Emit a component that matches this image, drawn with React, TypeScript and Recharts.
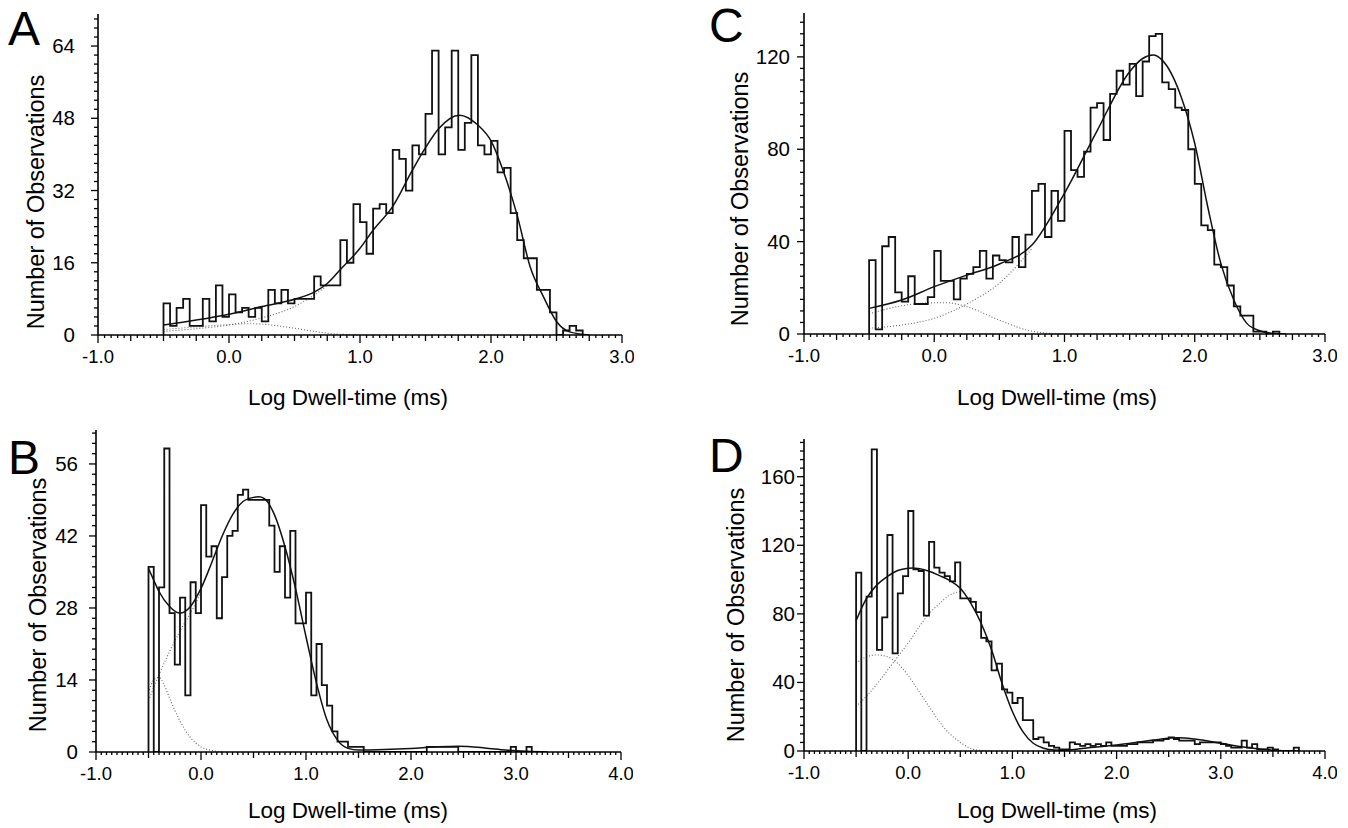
import React from "react";
import { ComposedChart, Line, XAxis, YAxis } from "recharts";

// histogram bins start at log t = -0.5, width 0.05
const BIN_START = -0.5;
const BIN_WIDTH = 0.05;

const countsA = [7, 2, 6, 8, 2, 2, 8, 3, 11, 4, 9, 5, 6, 4, 6, 3, 10, 7, 10, 7, 8, 8, 8, 13, 11, 11, 11, 21, 16, 29, 25, 18, 28, 29, 27, 41, 39, 32, 42, 40, 49, 63, 40, 46, 63, 41, 47, 62, 42, 40, 43, 36, 37, 27, 21, 17, 17, 10, 10, 5, 0, 1, 2, 1];
const fitAx = [-0.5, -0.25, 0, 0.25, 0.5, 0.65, 0.75, 0.85, 1.0, 1.1, 1.25, 1.4, 1.5, 1.6, 1.76, 1.9, 2.0, 2.1, 2.2, 2.3, 2.4, 2.5, 2.6, 2.75];
const fitAy = [2.2, 3.3, 4.6, 6.3, 7.9, 9.5, 11.4, 14.5, 19.2, 23.2, 28.5, 36.5, 41.5, 45.7, 48.7, 46.5, 43, 35.8, 26.5, 15, 8.5, 3, 0.7, 0];
const compA1x = [-0.5, -0.25, 0, 0.15, 0.25, 0.5, 0.75, 1.0];
const compA1y = [1.2, 1.8, 2.3, 2.5, 2.4, 1.5, 0.4, 0];
const compA2x = [-0.5, -0.25, 0, 0.25, 0.5, 0.75];
const compA2y = [0.8, 1.4, 2.2, 3.8, 6.3, 10.9];

const countsB = [36, 0, 32, 59, 27, 17, 30, 11, 33, 27, 48, 38, 40, 26, 34, 42, 43, 50, 51, 49, 49, 49, 49, 44, 35, 40, 30, 43, 25, 25, 31, 11, 21, 13, 9, 4, 2, 2, 1, 1, 1, 0, 0, 0, 0, 0, 0, 0, 0, 0, 0, 0, 0, 1, 1, 1, 1, 1, 1, 0, 0, 0, 0, 0, 0, 0, 0, 0, 0, 1, 0, 0, 1];
const fitBx = [-0.5, -0.45, -0.4, -0.3, -0.2, -0.1, 0, 0.1, 0.2, 0.3, 0.4, 0.5, 0.55, 0.6, 0.7, 0.8, 0.9, 1.0, 1.1, 1.2, 1.3, 1.4, 1.5, 1.75, 2.0, 2.25, 2.45, 2.7, 2.9, 3.1, 3.3];
const fitBy = [35.7, 33.4, 31.2, 28.3, 27, 28.3, 31.8, 36.7, 41.9, 46.1, 48.7, 49.5, 49.6, 49.3, 46.1, 39.9, 31.8, 22.4, 13.4, 6.2, 2.3, 0.7, 0.4, 0.5, 0.7, 1.0, 1.1, 0.8, 0.4, 0.15, 0];
const compB1x = [-0.5, -0.45, -0.4, -0.35, -0.3, -0.2, -0.1, 0, 0.1, 0.2];
const compB1y = [11.5, 14, 14.5, 13, 10.5, 6, 2.8, 1, 0.3, 0];
const compB2x = [-0.5, -0.4, -0.3, -0.2, -0.1, 0];
const compB2y = [10, 15, 19.5, 23.5, 27, 31];

const countsC = [32, 2, 38, 42, 18, 14, 25, 13, 13, 16, 36, 23, 23, 15, 24, 26, 29, 36, 24, 34, 32, 31, 42, 29, 43, 62, 65, 42, 62, 49, 88, 71, 68, 79, 98, 100, 84, 104, 114, 108, 117, 103, 118, 129, 130, 109, 106, 98, 97, 80, 65, 47, 45, 30, 29, 21, 12, 8, 8, 1, 1, 0, 1];
const fitCx = [-0.5, -0.25, 0, 0.25, 0.5, 0.75, 1.0, 1.25, 1.5, 1.6, 1.68, 1.75, 1.9, 2.0, 2.1, 2.2, 2.3, 2.4, 2.5, 2.6, 2.7];
const fitCy = [11.1, 14.7, 20.5, 25.5, 30.3, 38.5, 61, 88, 113.6, 119.3, 120.8, 118.6, 102, 82.5, 55, 30.6, 14.7, 4.6, 1.4, 0.3, 0];
const compC1x = [-0.5, -0.25, 0, 0.1, 0.25, 0.5, 0.75, 1.0];
const compC1y = [8.7, 12.2, 13.5, 13.5, 11.8, 6, 1.2, 0];
const compC2x = [-0.5, -0.25, 0, 0.25, 0.5, 0.75];
const compC2y = [2.5, 3.9, 6.8, 13, 22, 37];

const countsD = [104, 0, 90, 176, 59, 78, 126, 57, 92, 102, 140, 106, 105, 79, 122, 107, 104, 102, 99, 110, 89, 89, 87, 81, 66, 64, 47, 51, 36, 34, 28, 31, 18, 18, 7, 8, 5, 3, 2, 1, 1, 5, 4, 3, 4, 3, 4, 3, 5, 3, 3, 3, 4, 4, 5, 5, 5, 6, 6, 7, 8, 7, 6, 6, 6, 4, 5, 5, 5, 5, 4, 3, 2, 2, 6, 2, 4, 1, 1, 2, 1, 0, 0, 0, 2];
const fitDx = [-0.5, -0.4, -0.3, -0.2, -0.1, 0, 0.05, 0.1, 0.2, 0.3, 0.4, 0.5, 0.6, 0.7, 0.8, 0.9, 1.0, 1.1, 1.2, 1.3, 1.4, 1.5, 1.75, 2.0, 2.25, 2.5, 2.6, 2.75, 3.0, 3.25, 3.5, 3.75];
const fitDy = [76, 89, 96.9, 101.8, 105.3, 106.6, 106.8, 106.4, 104.9, 102.3, 99.4, 94.9, 86.2, 74.5, 59, 39.5, 23, 11.3, 4.5, 1.6, 0.6, 0.5, 2, 3.5, 5.5, 7.5, 7.8, 7, 4.5, 2, 0.5, 0];
const compD1x = [-0.5, -0.4, -0.3, -0.2, -0.1, 0, 0.1, 0.2, 0.3, 0.4, 0.5, 0.6, 0.7, 0.8];
const compD1y = [51, 55, 56, 55, 51, 44, 35, 26, 17, 10, 5, 1.5, 0.3, 0];
const compD2x = [-0.5, -0.4, -0.3, -0.2, -0.1, 0, 0.1, 0.2, 0.3, 0.4, 0.5, 0.55];
const compD2y = [26, 32, 39, 47, 55, 63, 72, 80, 86, 91, 93, 93.5];

const X_TITLE = "Log Dwell-time (ms)";
const Y_TITLE = "Number of Observations";

type Pt = { x: number; y: number };

function histPoints(counts: number[]): Pt[] {
  const pts: Pt[] = [{ x: BIN_START, y: 0 }];
  counts.forEach((c, i) => pts.push({ x: Math.round((BIN_START + i * BIN_WIDTH) * 1000) / 1000, y: c }));
  pts.push({ x: Math.round((BIN_START + counts.length * BIN_WIDTH) * 1000) / 1000, y: 0 });
  return pts;
}

function curve(xs: number[], ys: number[]): Pt[] {
  return xs.map((x, i) => ({ x, y: ys[i] }));
}

function xTickValues(max: number) {
  const t: number[] = [];
  const n = Math.round((max + 1) / 0.05);
  for (let i = 0; i <= n; i++) t.push(Math.round((-1 + i * 0.05) * 100) / 100);
  return t;
}

function yTickValues(max: number, step: number) {
  const t: number[] = [];
  for (let v = 0; v <= max + 1e-9; v += step) t.push(v);
  return t;
}

const near = (v: number, step: number) => Math.abs(v / step - Math.round(v / step)) < 1e-6;

const XTick = (props: any) => {
  const { x, y, payload, medium } = props;
  const v = payload.value;
  const major = near(v, 1);
  const len = major ? 8 : near(v, medium) ? 6 : 3;
  return (
    <g>
      <line x1={x} y1={y} x2={x} y2={y + len} stroke="#000" strokeWidth={1.3} />
      {major && (
        <text x={x} y={y + 28} textAnchor="middle" fontSize={18.5} fontFamily="'Liberation Sans', Arial, sans-serif" fill="#000">
          {v.toFixed(1)}
        </text>
      )}
    </g>
  );
};

const YTick = (props: any) => {
  const { x, y, payload, major, gap } = props;
  const v = payload.value;
  const isMajor = near(v, major);
  const len = isMajor ? 7 : 4;
  return (
    <g>
      <line x1={x} y1={y} x2={x - len} y2={y} stroke="#000" strokeWidth={1.3} />
      {isMajor && (
        <text x={x - gap} y={y + 7} textAnchor="end" fontSize={20.5} fontFamily="'Liberation Sans Narrow', 'Liberation Sans', Arial, sans-serif" fill="#000">
          {v}
        </text>
      )}
    </g>
  );
};

const panels = [
  { id: "A", plotLeft: 98, plotTop: 14, plotW: 524, plotH: 321, xMax: 3, xMed: 0.25, yMax: 71.1, yMinor: 2, yMajor: 16, gap: 23,
    counts: countsA, fit: curve(fitAx, fitAy), comps: [curve(compA1x, compA1y), curve(compA2x, compA2y)] },
  { id: "C", plotLeft: 804, plotTop: 13, plotW: 521, plotH: 321, xMax: 3, xMed: 0.25, yMax: 139, yMinor: 5, yMajor: 40, gap: 14,
    counts: countsC, fit: curve(fitCx, fitCy), comps: [curve(compC1x, compC1y), curve(compC2x, compC2y)] },
  { id: "B", plotLeft: 96, plotTop: 430, plotW: 525, plotH: 322, xMax: 4, xMed: 0.5, yMax: 62.6, yMinor: 2, yMajor: 14, gap: 18,
    counts: countsB, fit: curve(fitBx, fitBy), comps: [curve(compB1x, compB1y), curve(compB2x, compB2y)] },
  { id: "D", plotLeft: 804, plotTop: 439, plotW: 521, plotH: 312, xMax: 4, xMed: 0.5, yMax: 182, yMinor: 5, yMajor: 40, gap: 9,
    counts: countsD, fit: curve(fitDx, fitDy), comps: [curve(compD1x, compD1y), curve(compD2x, compD2y)] },
];

const M_LEFT = 20;
const Y_W = 40;
const M_TOP = 10;
const M_RIGHT = 12;
const X_H = 40;

function Panel({ p }: { p: (typeof panels)[number] }) {
  const width = M_LEFT + Y_W + p.plotW + M_RIGHT;
  const height = M_TOP + p.plotH + X_H;
  return (
    <div style={{ position: "absolute", left: p.plotLeft - M_LEFT - Y_W, top: p.plotTop - M_TOP, width, height }}>
      <ComposedChart width={width} height={height} margin={{ top: M_TOP, right: M_RIGHT, left: M_LEFT, bottom: 0 }}>
        <XAxis
          type="number"
          dataKey="x"
          domain={[-1, p.xMax]}
          allowDataOverflow
          ticks={xTickValues(p.xMax)}
          interval={0}
          tickSize={0}
          tickMargin={0}
          tickLine={false}
          height={X_H}
          axisLine={{ stroke: "#000", strokeWidth: 1.6 }}
          tick={(props: any) => <XTick {...props} medium={p.xMed} />}
        />
        <YAxis
          type="number"
          dataKey="y"
          domain={[0, p.yMax]}
          allowDataOverflow
          ticks={yTickValues(p.yMax, p.yMinor)}
          interval={0}
          width={Y_W}
          tickSize={0}
          tickMargin={0}
          tickLine={false}
          axisLine={{ stroke: "#000", strokeWidth: 1.6 }}
          tick={(props: any) => <YTick {...props} major={p.yMajor} gap={p.gap} />}
        />
        {p.comps.map((c, i) => (
          <Line key={i} data={c} dataKey="y" type="monotone" stroke="#666" strokeWidth={1.1} strokeDasharray="1 2" dot={false} activeDot={false} isAnimationActive={false} />
        ))}
        <Line data={histPoints(p.counts)} dataKey="y" type="stepAfter" stroke="#111" strokeWidth={1.8} dot={false} activeDot={false} isAnimationActive={false} />
        <Line data={p.fit} dataKey="y" type="monotone" stroke="#111" strokeWidth={1.5} dot={false} activeDot={false} isAnimationActive={false} />
      </ComposedChart>
    </div>
  );
}

const FONT = "'Liberation Sans', Arial, Helvetica, sans-serif";

export default function App() {
  return (
    <div style={{ position: "absolute", left: 0, top: 0, width: 1348, height: 828, background: "#fff", overflow: "hidden" }}>
      {panels.map((p) => (
        <Panel key={p.id} p={p} />
      ))}
      <svg width={1348} height={828} style={{ position: "absolute", left: 0, top: 0, pointerEvents: "none" }}>
        <g fontFamily={FONT} fill="#000">
          <text x={8} y={45} fontSize={48}>A</text>
          <text x={709} y={42} fontSize={48}>C</text>
          <text x={8} y={474} fontSize={48}>B</text>
          <text x={709} y={472} fontSize={48}>D</text>
          <text x={348} y={405} fontSize={22.5} textAnchor="middle">{X_TITLE}</text>
          <text x={1057} y={405} fontSize={22.5} textAnchor="middle">{X_TITLE}</text>
          <text x={348} y={818} fontSize={22.5} textAnchor="middle">{X_TITLE}</text>
          <text x={1057} y={818} fontSize={22.5} textAnchor="middle">{X_TITLE}</text>
          <text transform="translate(44,202) rotate(-90)" fontSize={23.5} textAnchor="middle">{Y_TITLE}</text>
          <text transform="translate(46,605) rotate(-90)" fontSize={23.5} textAnchor="middle">{Y_TITLE}</text>
          <text transform="translate(748,199) rotate(-90)" fontSize={23.5} textAnchor="middle">{Y_TITLE}</text>
          <text transform="translate(744,615) rotate(-90)" fontSize={23.5} textAnchor="middle">{Y_TITLE}</text>
        </g>
      </svg>
    </div>
  );
}
